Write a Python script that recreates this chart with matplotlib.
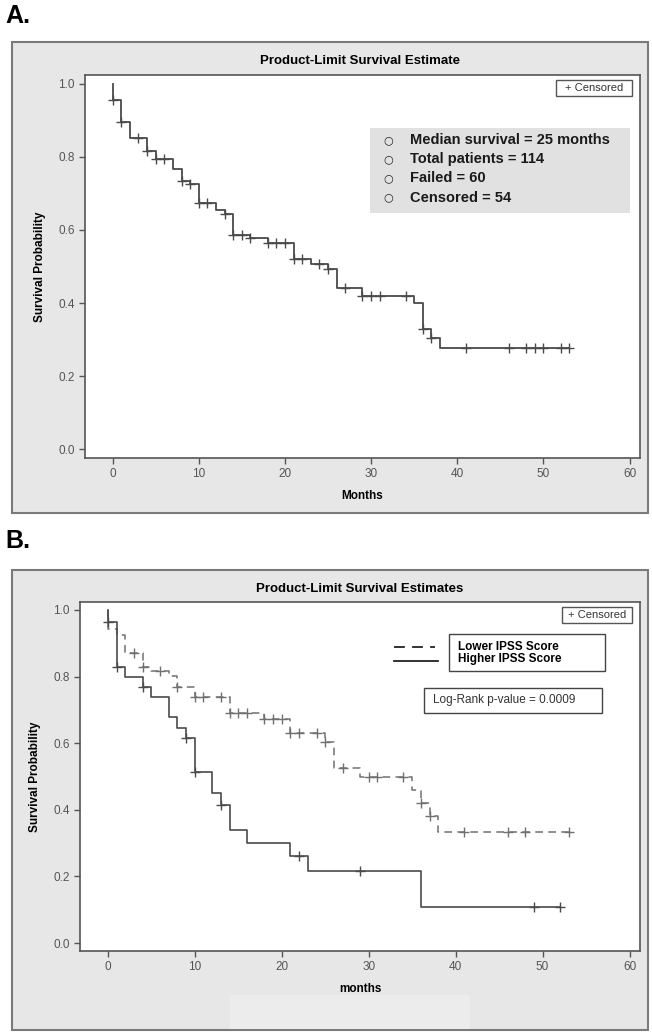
import matplotlib.pyplot as plt
import numpy as np
from matplotlib.patches import Rectangle

plt.rcParams['font.family'] = ['Liberation Sans', 'DejaVu Sans']

# ---- panel A: all patients ----
times_a = [0, 1, 2, 4, 5, 7, 8, 9, 10, 12, 13, 14, 16, 18, 21, 23, 25, 26, 29, 35, 36, 37, 38]
surv_a = [0.956, 0.896, 0.851, 0.815, 0.794, 0.766, 0.734, 0.727, 0.675, 0.655, 0.643, 0.586,
          0.577, 0.565, 0.520, 0.508, 0.492, 0.440, 0.420, 0.399, 0.329, 0.305, 0.276]
end_a = 53
cens_a = [0, 1, 3, 4, 5, 6, 8, 9, 10, 11, 13, 14, 15, 16, 18, 19, 20, 21, 22, 24, 25, 27, 29,
          30, 31, 34, 36, 37, 41, 46, 48, 49, 50, 52, 53]
info_lines = ['Median survival = 25 months', 'Total patients = 114', 'Failed = 60', 'Censored = 54']

# ---- panel B: by IPSS score ----
times_lo = [0, 1, 2, 4, 5, 7, 8, 10, 14, 18, 21, 25, 26, 29, 35, 36, 37, 38]
surv_lo = [0.942, 0.925, 0.872, 0.830, 0.817, 0.802, 0.768, 0.740, 0.690, 0.672, 0.630, 0.605,
           0.525, 0.500, 0.460, 0.420, 0.380, 0.332]
end_lo = 53
cens_lo = [3, 4, 6, 8, 10, 11, 13, 14, 15, 16, 18, 19, 20, 21, 22, 24, 25, 27, 30, 31, 34, 36,
           37, 41, 46, 48, 53]

times_hi = [0, 1, 2, 4, 5, 7, 8, 9, 10, 12, 13, 14, 16, 21, 23, 36]
surv_hi = [0.965, 0.830, 0.798, 0.768, 0.738, 0.678, 0.647, 0.617, 0.515, 0.450, 0.415, 0.340,
           0.300, 0.262, 0.217, 0.108]
end_hi = 52
cens_hi = [0, 1, 4, 9, 10, 13, 22, 29, 49, 52]

group_labels = ['Lower IPSS Score', 'Higher IPSS Score']
pvalue_text = 'Log-Rank p-value = 0.0009'

xticks = [0, 10, 20, 30, 40, 50, 60]
yticks = [0.0, 0.2, 0.4, 0.6, 0.8, 1.0]

line_col = '#4a4a4a'
dash_col = '#707070'
panel_bg = '#e7e7e7'
edge_col = '#7a7a7a'


def step_xy(times, surv, end):
    x = [0] + list(times) + [end]
    y = [1.0] + list(surv) + [surv[-1]]
    return x, y


def surv_at(times, surv, ts):
    idx = np.searchsorted(times, ts, side='right') - 1
    return [1.0 if i < 0 else surv[i] for i in idx]


def style_axes(ax, xlabel):
    ax.set_xlim(-3.2, 61.2)
    ax.set_ylim(-0.024, 1.024)
    ax.set_xticks(xticks)
    ax.set_yticks(yticks)
    ax.set_yticklabels(['%.1f' % v for v in yticks])
    ax.tick_params(direction='out', length=4, width=1, colors='#555555', labelsize=8.5,
                   labelcolor='#555555')
    for s in ax.spines.values():
        s.set_color('#555555')
        s.set_linewidth(1.2)
    ax.set_xlabel(xlabel, fontsize=8.5, fontweight='bold', labelpad=7)
    ax.set_ylabel('Survival Probability', fontsize=8.5, fontweight='bold', labelpad=9)


def censor_box(ax, x0, y0, w, h):
    ax.add_patch(Rectangle((x0, y0), w, h, transform=ax.transAxes, facecolor='white',
                           edgecolor='#555555', lw=1, zorder=5))
    ax.text(x0 + w / 2, y0 + h / 2, '+ Censored', transform=ax.transAxes, ha='center',
            va='center', fontsize=8, color='#333333', zorder=6)


fig = plt.figure(figsize=(6.52, 10.33), dpi=100)
W, H = 652, 1033

# outer gray panels
for (x0, y0, x1, y1) in [(12, 42, 648, 513), (12, 570, 648, 1030)]:
    fig.patches.append(Rectangle((x0 / W, 1 - y1 / H), (x1 - x0) / W, (y1 - y0) / H,
                                 transform=fig.transFigure, facecolor=panel_bg,
                                 edgecolor=edge_col, lw=1.5, zorder=-10))
fig.patches.append(Rectangle((230 / W, 1 - 1029 / H), 240 / W, 34 / H, transform=fig.transFigure,
                             facecolor='#ececec', edgecolor='none', zorder=-9))

fig.text(5 / W, 1 - 16 / H, 'A.', fontsize=18, fontweight='bold', va='center', ha='left')
fig.text(5 / W, 1 - 541 / H, 'B.', fontsize=18, fontweight='bold', va='center', ha='left')

# ---- panel A ----
axA = fig.add_axes([85 / W, 1 - 458 / H, 555 / W, 383 / H])
x, y = step_xy(times_a, surv_a, end_a)
axA.step(x, y, where='post', color=line_col, lw=1.3)
axA.plot(cens_a, surv_at(times_a, surv_a, cens_a), '+', color=line_col, ms=7, mew=1)
style_axes(axA, 'Months')
fig.text(360 / W, 1 - 61 / H, 'Product-Limit Survival Estimate', fontsize=9.5,
         fontweight='bold', ha='center', va='center')
censor_box(axA, 0.849, 0.945, 0.137, 0.042)

axA.add_patch(Rectangle((0.514, 0.640), 0.468, 0.222, transform=axA.transAxes,
                        facecolor='#e1e1e1', edgecolor='none', zorder=4))
for i, line in enumerate(info_lines):
    yy = 0.830 - i * 0.050
    axA.text(0.546, yy, '\u25cb', transform=axA.transAxes, fontsize=8, ha='center',
             va='center', zorder=6, color='#222222', family=['DejaVu Sans'])
    axA.text(0.586, yy, line, transform=axA.transAxes, fontsize=10.5, fontweight='bold',
             ha='left', va='center', zorder=6, color='#1a1a1a')

# ---- panel B ----
axB = fig.add_axes([80 / W, 1 - 951 / H, 560 / W, 349 / H])
x, y = step_xy(times_lo, surv_lo, end_lo)
axB.step(x, y, where='post', color=dash_col, lw=1.1, linestyle=(0, (5, 3.5)))
axB.plot(cens_lo, surv_at(times_lo, surv_lo, cens_lo), '+', color=dash_col, ms=7, mew=1)
x, y = step_xy(times_hi, surv_hi, end_hi)
axB.step(x, y, where='post', color=line_col, lw=1.2)
axB.plot(cens_hi, surv_at(times_hi, surv_hi, cens_hi), '+', color=line_col, ms=7, mew=1)
style_axes(axB, 'months')
fig.text(360 / W, 1 - 589 / H, 'Product-Limit Survival Estimates', fontsize=9.5,
         fontweight='bold', ha='center', va='center')
censor_box(axB, 0.861, 0.940, 0.125, 0.046)

# legend in panel B
axB.plot([0.561, 0.634], [0.871, 0.871], transform=axB.transAxes, color='#222222', lw=1.3,
         linestyle=(0, (6, 4)))
axB.plot([0.561, 0.640], [0.831, 0.831], transform=axB.transAxes, color='#222222', lw=1.3)
axB.add_patch(Rectangle((0.659, 0.802), 0.279, 0.106, transform=axB.transAxes,
                        facecolor='white', edgecolor='#444444', lw=1, zorder=5))
axB.text(0.675, 0.872, group_labels[0], transform=axB.transAxes, fontsize=8.5,
         fontweight='bold', va='center', zorder=6)
axB.text(0.675, 0.836, group_labels[1], transform=axB.transAxes, fontsize=8.5,
         fontweight='bold', va='center', zorder=6)
axB.add_patch(Rectangle((0.614, 0.682), 0.318, 0.072, transform=axB.transAxes,
                        facecolor='white', edgecolor='#444444', lw=1, zorder=5))
axB.text(0.630, 0.718, pvalue_text, transform=axB.transAxes, fontsize=8.5, color='#333333',
         va='center', zorder=6)

fig.savefig('out.png', dpi=100)
